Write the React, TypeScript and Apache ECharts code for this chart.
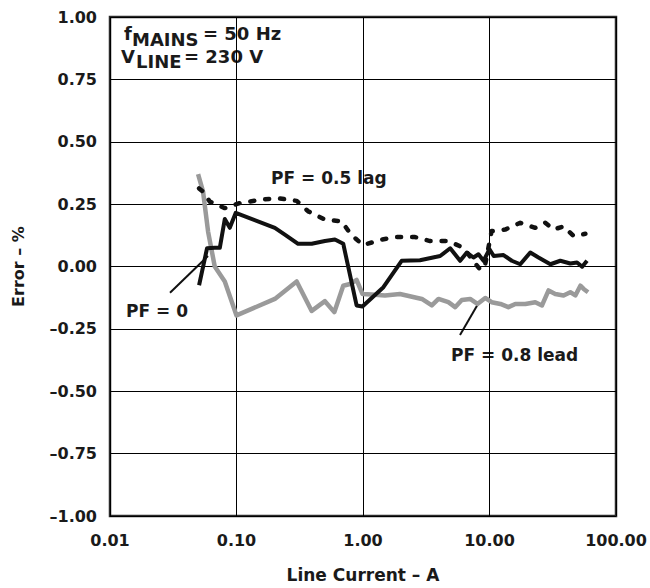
import React, { useEffect, useRef } from "react";
import * as echarts from "echarts";

// PF = 0.8 lead (gray)
const pf08Current = [0.0497, 0.0544, 0.0596, 0.0673, 0.0808, 0.1, 0.201, 0.299, 0.393, 0.5, 0.593, 0.698, 0.789, 0.89, 0.99, 1.17, 1.49, 1.96, 2.92, 3.5, 3.95, 4.73, 5.35, 6.04, 7.03, 8.03, 9.25, 10.4, 12.2, 14.1, 16, 19.2, 23, 26, 29.3, 33.1, 38.5, 43.5, 47.7, 52.3, 55.5, 60.1];
const pf08Error = [0.37, 0.3, 0.14, 0.0, -0.06, -0.196, -0.13, -0.06, -0.178, -0.139, -0.183, -0.077, -0.07, -0.054, -0.11, -0.112, -0.116, -0.11, -0.13, -0.156, -0.13, -0.143, -0.163, -0.134, -0.13, -0.15, -0.126, -0.143, -0.15, -0.163, -0.15, -0.15, -0.143, -0.156, -0.096, -0.11, -0.116, -0.103, -0.116, -0.077, -0.09, -0.103];

// PF = 0 (black solid)
const pf0Current = [0.0506, 0.0585, 0.0673, 0.0738, 0.0808, 0.0885, 0.0987, 0.201, 0.241, 0.307, 0.393, 0.5, 0.6, 0.698, 0.89, 0.99, 1.45, 2.02, 2.82, 4.07, 4.89, 5.86, 6.62, 7.47, 8.18, 8.97, 10.0, 10.8, 12.9, 15, 17.5, 21, 24.4, 30.3, 36.3, 43.5, 49.2, 54, 59];
const pf0Error = [-0.075, 0.073, 0.075, 0.075, 0.19, 0.155, 0.215, 0.155, 0.128, 0.091, 0.091, 0.102, 0.108, 0.091, -0.156, -0.16, -0.083, 0.023, 0.025, 0.042, 0.073, 0.023, 0.056, 0.036, 0.049, 0.023, 0.069, 0.042, 0.046, 0.023, 0.009, 0.056, 0.036, 0.009, 0.023, 0.012, 0.016, -0.001, 0.023];

// PF = 0.5 lag (black dotted)
const pf05Current = [0.0506, 0.0544, 0.0615, 0.0808, 0.106, 0.153, 0.21, 0.299, 0.369, 0.5, 0.678, 0.804, 1.0, 1.41, 1.85, 2.58, 3.39, 4.73, 6.22, 8.5, 9.25, 10.4, 13.3, 17.5, 23, 27.6, 32.1, 38.5, 46.2, 57.3];
const pf05Error = [0.313, 0.3, 0.26, 0.234, 0.254, 0.267, 0.274, 0.263, 0.221, 0.188, 0.181, 0.128, 0.086, 0.108, 0.118, 0.118, 0.102, 0.102, 0.075, -0.015, 0.009, 0.142, 0.148, 0.175, 0.155, 0.175, 0.148, 0.161, 0.122, 0.131];

const FONT = "DejaVu Sans";
const TEXT = "#1a1a1a";

function pairs(xs: number[], ys: number[]) {
  return xs.map((x, i) => [x, ys[i]]);
}

function fmtY(v: number) {
  const s = Math.abs(v).toFixed(2);
  return v < -1e-9 ? "\u2013" + s : s;
}

function txt(text: string, x: number, y: number, size: number) {
  return {
    type: "text",
    x,
    y,
    silent: true,
    style: {
      text,
      fill: TEXT,
      fontFamily: FONT,
      fontWeight: "bold",
      fontSize: size,
      align: "left",
      verticalAlign: "middle",
    },
  };
}

function leader(x1: number, y1: number, x2: number, y2: number) {
  return {
    type: "line",
    silent: true,
    shape: { x1, y1, x2, y2 },
    style: { stroke: "#111", lineWidth: 2 },
  };
}

export default function App() {
  const ref = useRef<HTMLDivElement>(null);
  useEffect(() => {
    if (!ref.current) return;
    const chart = echarts.init(ref.current, null, { renderer: "svg" });
    chart.setOption({
      animation: false,
      backgroundColor: "#ffffff",
      grid: {
        left: 110,
        right: 34,
        top: 17,
        bottom: 67,
        show: true,
        borderColor: "#2a2a2a",
        borderWidth: 2.5,
        backgroundColor: "transparent",
      },
      xAxis: {
        type: "log",
        logBase: 10,
        min: 0.01,
        max: 100,
        name: "Line Current \u2013 A",
        nameLocation: "middle",
        nameGap: 50,
        nameTextStyle: { fontFamily: FONT, fontWeight: "bold", fontSize: 17, color: TEXT },
        axisLine: { show: false },
        axisTick: { show: false },
        minorTick: { show: false },
        axisLabel: {
          margin: 16,
          fontFamily: FONT,
          fontWeight: "bold",
          fontSize: 16,
          color: TEXT,
          formatter: (v: number) => v.toFixed(2),
        },
        splitLine: { show: true, lineStyle: { color: "#000", width: 1 } },
      },
      yAxis: {
        type: "value",
        min: -1,
        max: 1,
        interval: 0.25,
        name: "Error \u2013 %",
        nameLocation: "middle",
        nameGap: 84,
        nameTextStyle: { fontFamily: FONT, fontWeight: "bold", fontSize: 16, color: TEXT },
        axisLine: { show: false },
        axisTick: { show: false },
        axisLabel: {
          margin: 13,
          fontFamily: FONT,
          fontWeight: "bold",
          fontSize: 16,
          color: TEXT,
          formatter: fmtY,
        },
        splitLine: { show: true, lineStyle: { color: "#000", width: 1 } },
      },
      series: [
        {
          name: "PF = 0.8 lead",
          type: "line",
          data: pairs(pf08Current, pf08Error),
          showSymbol: false,
          symbol: "none",
          lineStyle: { color: "#9a9a9a", width: 4.5, join: "round" },
          z: 3,
        },
        {
          name: "PF = 0.5 lag",
          type: "line",
          data: pairs(pf05Current, pf05Error),
          showSymbol: false,
          symbol: "none",
          lineStyle: { color: "#111", width: 4.5, type: [4, 11], cap: "round", join: "round" },
          z: 4,
        },
        {
          name: "PF = 0",
          type: "line",
          data: pairs(pf0Current, pf0Error),
          showSymbol: false,
          symbol: "none",
          lineStyle: { color: "#111", width: 4, join: "round" },
          z: 5,
        },
      ],
      graphic: [
        txt("f", 124, 33.5, 18),
        txt("MAINS", 132, 39, 18),
        txt("= 50 Hz", 203, 33.5, 18),
        txt("V", 121, 56, 18),
        txt("LINE", 136, 61, 18),
        txt("= 230 V", 184, 56, 18),
        txt("PF = 0.5 lag", 271, 177.5, 17),
        txt("PF = 0", 126, 311, 17),
        txt("PF = 0.8 lead", 451, 355, 17),
        leader(170, 292.7, 208, 256),
        leader(460, 335, 478, 304),
      ],
    });
    return () => chart.dispose();
  }, []);
  return (
    <div
      ref={ref}
      style={{ position: "fixed", left: 0, top: 0, width: 650, height: 588 }}
    />
  );
}
